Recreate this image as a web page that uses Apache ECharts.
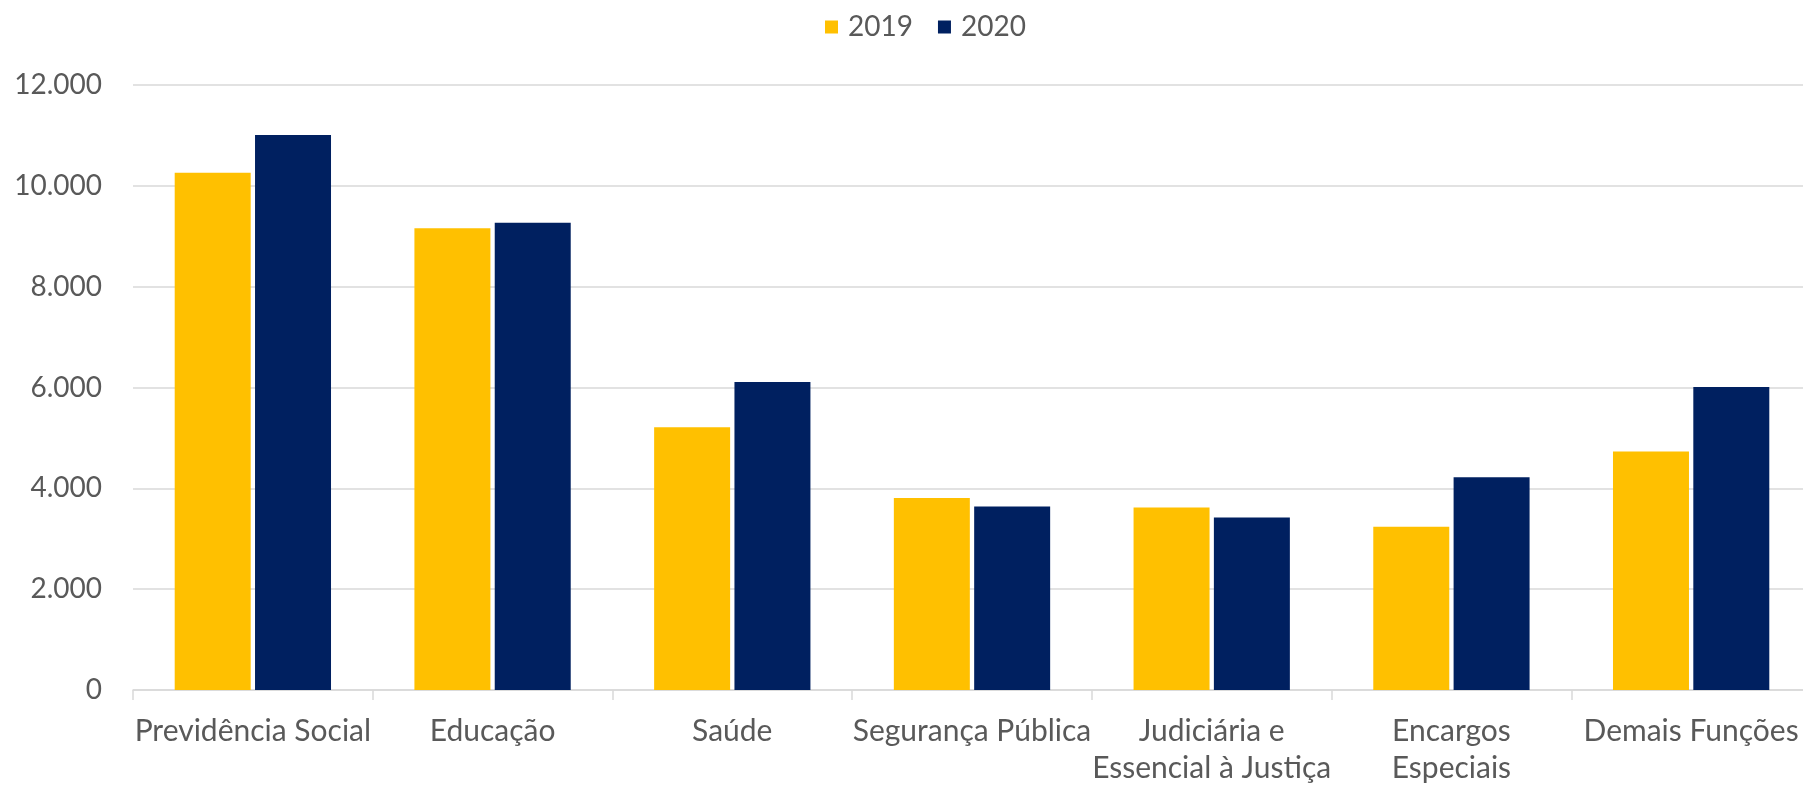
<!DOCTYPE html>
<html>
<head>
<meta charset="utf-8">
<script src="https://cdn.jsdelivr.net/npm/echarts@6/dist/echarts.min.js"></script>
<style>
html,body{margin:0;padding:0;background:#fff;overflow:hidden;}
#chart{width:1811px;height:787px;}
</style>
</head>
<body>
<div id="chart"></div>
<script>
const categories = ['Previdência Social', 'Educação', 'Saúde', 'Segurança Pública', 'Judiciária e\nEssencial à Justiça', 'Encargos\nEspeciais', 'Demais Funções'];
const seriesNames = ['2019', '2020'];
const values2019 = [10260, 9160, 5210, 3810, 3620, 3240, 4730];
const values2020 = [11010, 9270, 6110, 3640, 3420, 4220, 6010];
const yTicks = { min: 0, max: 12000, interval: 2000 };

const FONT = 'Lato, "Open Sans", sans-serif';
const TXT = '#595959';

const chart = echarts.init(document.getElementById('chart'));
chart.setOption({
  backgroundColor: '#ffffff',
  animation: false,
  legend: {
    data: seriesNames,
    left: 820,
    top: 8,
    icon: 'rect',
    itemWidth: 13,
    itemHeight: 13,
    itemGap: 25,
    textStyle: { color: TXT, fontFamily: FONT, fontSize: 28, padding: [0, 0, 0, 5] }
  },
  grid: { left: 133, top: 85, right: 0, bottom: 96, containLabel: false },
  xAxis: {
    type: 'category',
    data: categories,
    axisLine: { show: true, lineStyle: { color: '#D9D9D9', width: 1.5 } },
    axisTick: { show: true, length: 10, alignWithLabel: false, lineStyle: { color: '#D9D9D9', width: 1.5 } },
    axisLabel: { color: TXT, fontFamily: FONT, fontSize: 30, margin: 23, lineHeight: 37, interval: 0 }
  },
  yAxis: {
    type: 'value',
    min: yTicks.min,
    max: yTicks.max,
    interval: yTicks.interval,
    axisLine: { show: false },
    axisTick: { show: false },
    splitLine: { lineStyle: { color: '#D9D9D9', width: 1.5 } },
    axisLabel: {
      color: TXT, fontFamily: FONT, fontSize: 28, margin: 31,
      formatter: v => v.toString().replace(/\B(?=(\d{3})+(?!\d))/g, '.')
    }
  },
  series: [
    { name: seriesNames[0], type: 'bar', data: values2019, barWidth: '31.7%', barGap: '5.7%', itemStyle: { color: '#FFC000' } },
    { name: seriesNames[1], type: 'bar', data: values2020, barWidth: '31.7%', itemStyle: { color: '#002060' } }
  ]
});
</script>
</body>
</html>
